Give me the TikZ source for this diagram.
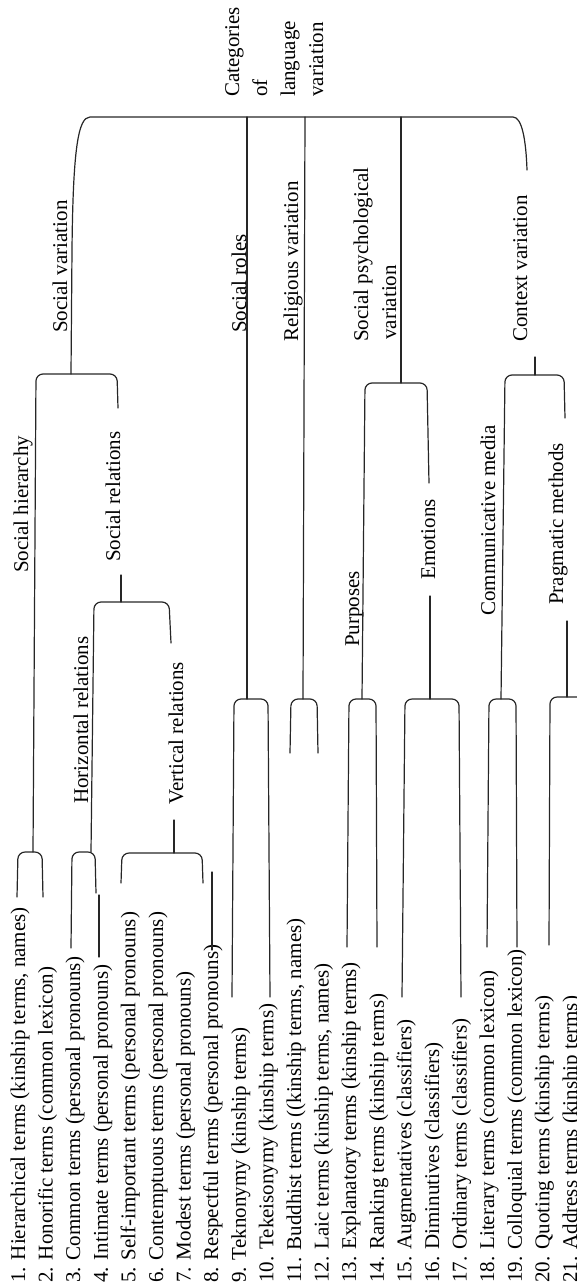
\documentclass[tikz,border=0pt]{standalone}
\usepackage{fontspec}
\setmainfont{Liberation Serif}
\begin{document}
\begin{tikzpicture}[x=1pt,y=-1pt,
  lbl/.style={rotate=90,anchor=base west,inner sep=0pt,font=\fontsize{21}{25}\selectfont},
  ln/.style={line width=1.2pt,line cap=round,draw=black!85},
  br/.style={ln,rounded corners=7pt}]
\useasboundingbox (0,0) rectangle (577,1286);
\clip (0,0) rectangle (577,1286);

% ---- list of terms (leaves) ----
\foreach \n/\t in {
  1/{Hierarchical terms (kinship terms, names)},
  2/{Honorific terms (common lexicon)},
  3/{Common terms (personal pronouns)},
  4/{Intimate terms (personal pronouns)},
  5/{Self-important terms (personal pronouns)},
  6/{Contemptuous terms (personal pronouns)},
  7/{Modest terms (personal pronouns)},
  8/{Respectful terms (personal pronouns)},
  9/{Teknonymy (kinship terms)},
  10/{Tekeisonymy (kinship terms)},
  11/{Buddhist terms ((kinship terms, names)},
  12/{Laic terms (kinship terms, names)},
  13/{Explanatory terms (kinship terms)},
  14/{Ranking terms (kinship terms)},
  15/{Augmentatives (classifiers)},
  16/{Diminutives (classifiers)},
  17/{Ordinary terms (classifiers)},
  18/{Literary terms (common lexicon)},
  19/{Colloquial terms (common lexicon)},
  20/{Quoting terms (kinship terms)},
  21/{Address terms (kinship terms)}}
  \node[lbl] (t\n) at ({25+(\n-1)*27.6},1283) {\n. \t};

% ---- category labels ----
\node[lbl] (root1) at (239,97) {Categories};
\node[lbl] (root2) at (267,97) {of};
\node[lbl] (root3) at (295,97) {language};
\node[lbl] (root4) at (323,97) {variation};

\node[lbl] (socvar)  at (67,333)  {Social variation};
\node[lbl] (socrole) at (246,333) {Social roles};
\node[lbl] (relig)   at (298,342) {Religious variation};
\node[lbl] (psy1)    at (368,342) {Social psychological};
\node[lbl] (psy2)    at (396,340) {variation};
\node[lbl] (context) at (527,342) {Context variation};

\node[lbl] (hier)    at (28,573)  {Social hierarchy};
\node[lbl] (rel)     at (120,562) {Social relations};
\node[lbl] (horiz)   at (88,804)  {Horizontal relations};
\node[lbl] (vert)    at (183,805) {Vertical relations};
\node[lbl] (purp)    at (359,647) {Purposes};
\node[lbl] (emo)     at (435,580) {Emotions};
\node[lbl] (media)   at (495,616) {Communicative media};
\node[lbl] (prag)    at (563,605) {Pragmatic methods};

% ---- root bracket ----
\draw[ln] (71,374) -- (72,250) .. controls (73,150) and (78,117) .. (90,117)
  -- (513,117) .. controls (522,117) and (526,140) .. (527,170);
\draw[ln] (247,117) -- (247,699);
\draw[ln] (305,117) -- (303,699);
\draw[ln] (401,117) -- (401,383);
\draw[ln] (535,357) -- (535,375);

% ---- social variation ----
\draw[br] (33,852) -- (36,374) -- (117,374) -- (118,408);
\draw[ln] (121,575) -- (121,602);
\draw[br] (17,897) -- (18,852) -- (42,852) -- (43,897);
\draw[br] (91,852) -- (94,602) -- (169,602) -- (171,643);
\draw[ln] (174,820) -- (174,853);
\draw[br] (71,948) -- (72,852) -- (95,852) -- (96,893);
\draw[ln] (99,895) -- (99,957);
\draw[br] (121,883) -- (122,853) -- (202,853) -- (203,883);
\draw[ln] (212,872) -- (212,950);

% ---- social roles, religious variation ----
\draw[br] (232,997) -- (234,699) -- (268,699) -- (270,997);
\draw[br] (290,753) -- (291,699) -- (317,699) -- (318,753);

% ---- social psychological variation ----
\draw[br] (362,699) -- (365,383) -- (427,383) -- (429,483);
\draw[ln] (430,596) -- (430,699);
\draw[br] (347,947) -- (349,699) -- (376,699) -- (377,947);
\draw[br] (402,997) -- (405,699) -- (459,699) -- (461,997);

% ---- context variation ----
\draw[br] (501,699) -- (505,375) -- (564,375) -- (565,418);
\draw[ln] (567,621) -- (567,697);
\draw[br] (487,947) -- (489,699) -- (516,699) -- (517,947);
\draw[br] (549,945) -- (550,697) -- (584,697) -- (586,945);
\end{tikzpicture}
\end{document}
